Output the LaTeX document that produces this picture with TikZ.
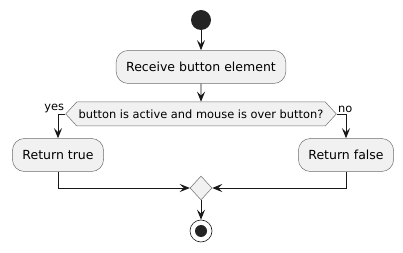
\documentclass[tikz,border=0pt]{standalone}
\usepackage{fontspec}
\setmainfont{DejaVu Sans}
\usetikzlibrary{
	positioning,
	arrows.meta,
	shapes.symbols,
	shapes.geometric}
\definecolor{actfill}{HTML}{F1F1F1}
\definecolor{actline}{HTML}{181818}
\definecolor{actedge}{HTML}{6E6E6E}
\tikzset{
	flow/.style={
		draw=actline,
		line width=0.8pt,
		-{Stealth[length=10pt, width=8pt, inset=4pt]}
	},
	action/.style={
		rectangle,
		rounded corners=12pt,
		draw=actedge,
		fill=actfill,
		line width=0.5pt,
		minimum height=33pt,
		inner xsep=10pt,
		font=\fontsize{12.5}{14}\selectfont
	},
	decision/.style={
		signal,
		signal to=west and east,
		signal pointer angle=95,
		draw=actedge,
		fill=actfill,
		line width=0.5pt,
		minimum height=24pt,
		inner xsep=2pt,
		font=\fontsize{11.4}{13}\selectfont
	},
	merge/.style={
		diamond,
		draw=actedge,
		fill=actfill,
		line width=0.5pt,
		inner sep=0pt,
		minimum width=22pt,
		minimum height=24pt
	},
	startdot/.style={
		circle,
		fill=actline!95!white,
		inner sep=0pt,
		minimum size=20pt
	},
	stopring/.style={
		circle,
		draw=actline,
		fill=white,
		line width=0.6pt,
		inner sep=0pt,
		minimum size=22pt
	},
	branch label/.style={
		inner sep=1pt,
		font=\fontsize{11.4}{13}\selectfont
	}
}

\begin{document}
\begin{tikzpicture}[x=1pt, y=-1pt]
	\useasboundingbox (0,0) rectangle (403,253);
	\node[startdot] (start) at (201,20) {};
	\node[action, below=20pt of start] (receive) {Receive button element};
	\node[decision, below=18pt of receive] (check) {button is active and mouse is over button?};
	\node[action] (rettrue) at (58,155) {Return true};
	\node[action] (retfalse) at (346,155) {Return false};
	\node[merge] (join) at (201,188) {};
	\node[stopring] (stop) at (201,231) {};
	\fill[actline!95!white] (stop) circle (6pt);
	\draw[flow] (start) -- (receive);
	\draw[flow] (receive) -- (check);
	\draw[flow] (check.west) -| node[branch label, pos=0, anchor=south east] {yes} (rettrue.north);
	\draw[flow] (check.east) -| node[branch label, pos=0, anchor=south west] {no} (retfalse.north);
	\draw[flow] (rettrue.south) |- (join.west);
	\draw[flow] (retfalse.south) |- (join.east);
	\draw[flow] (join) -- (stop);
\end{tikzpicture}
\end{document}
